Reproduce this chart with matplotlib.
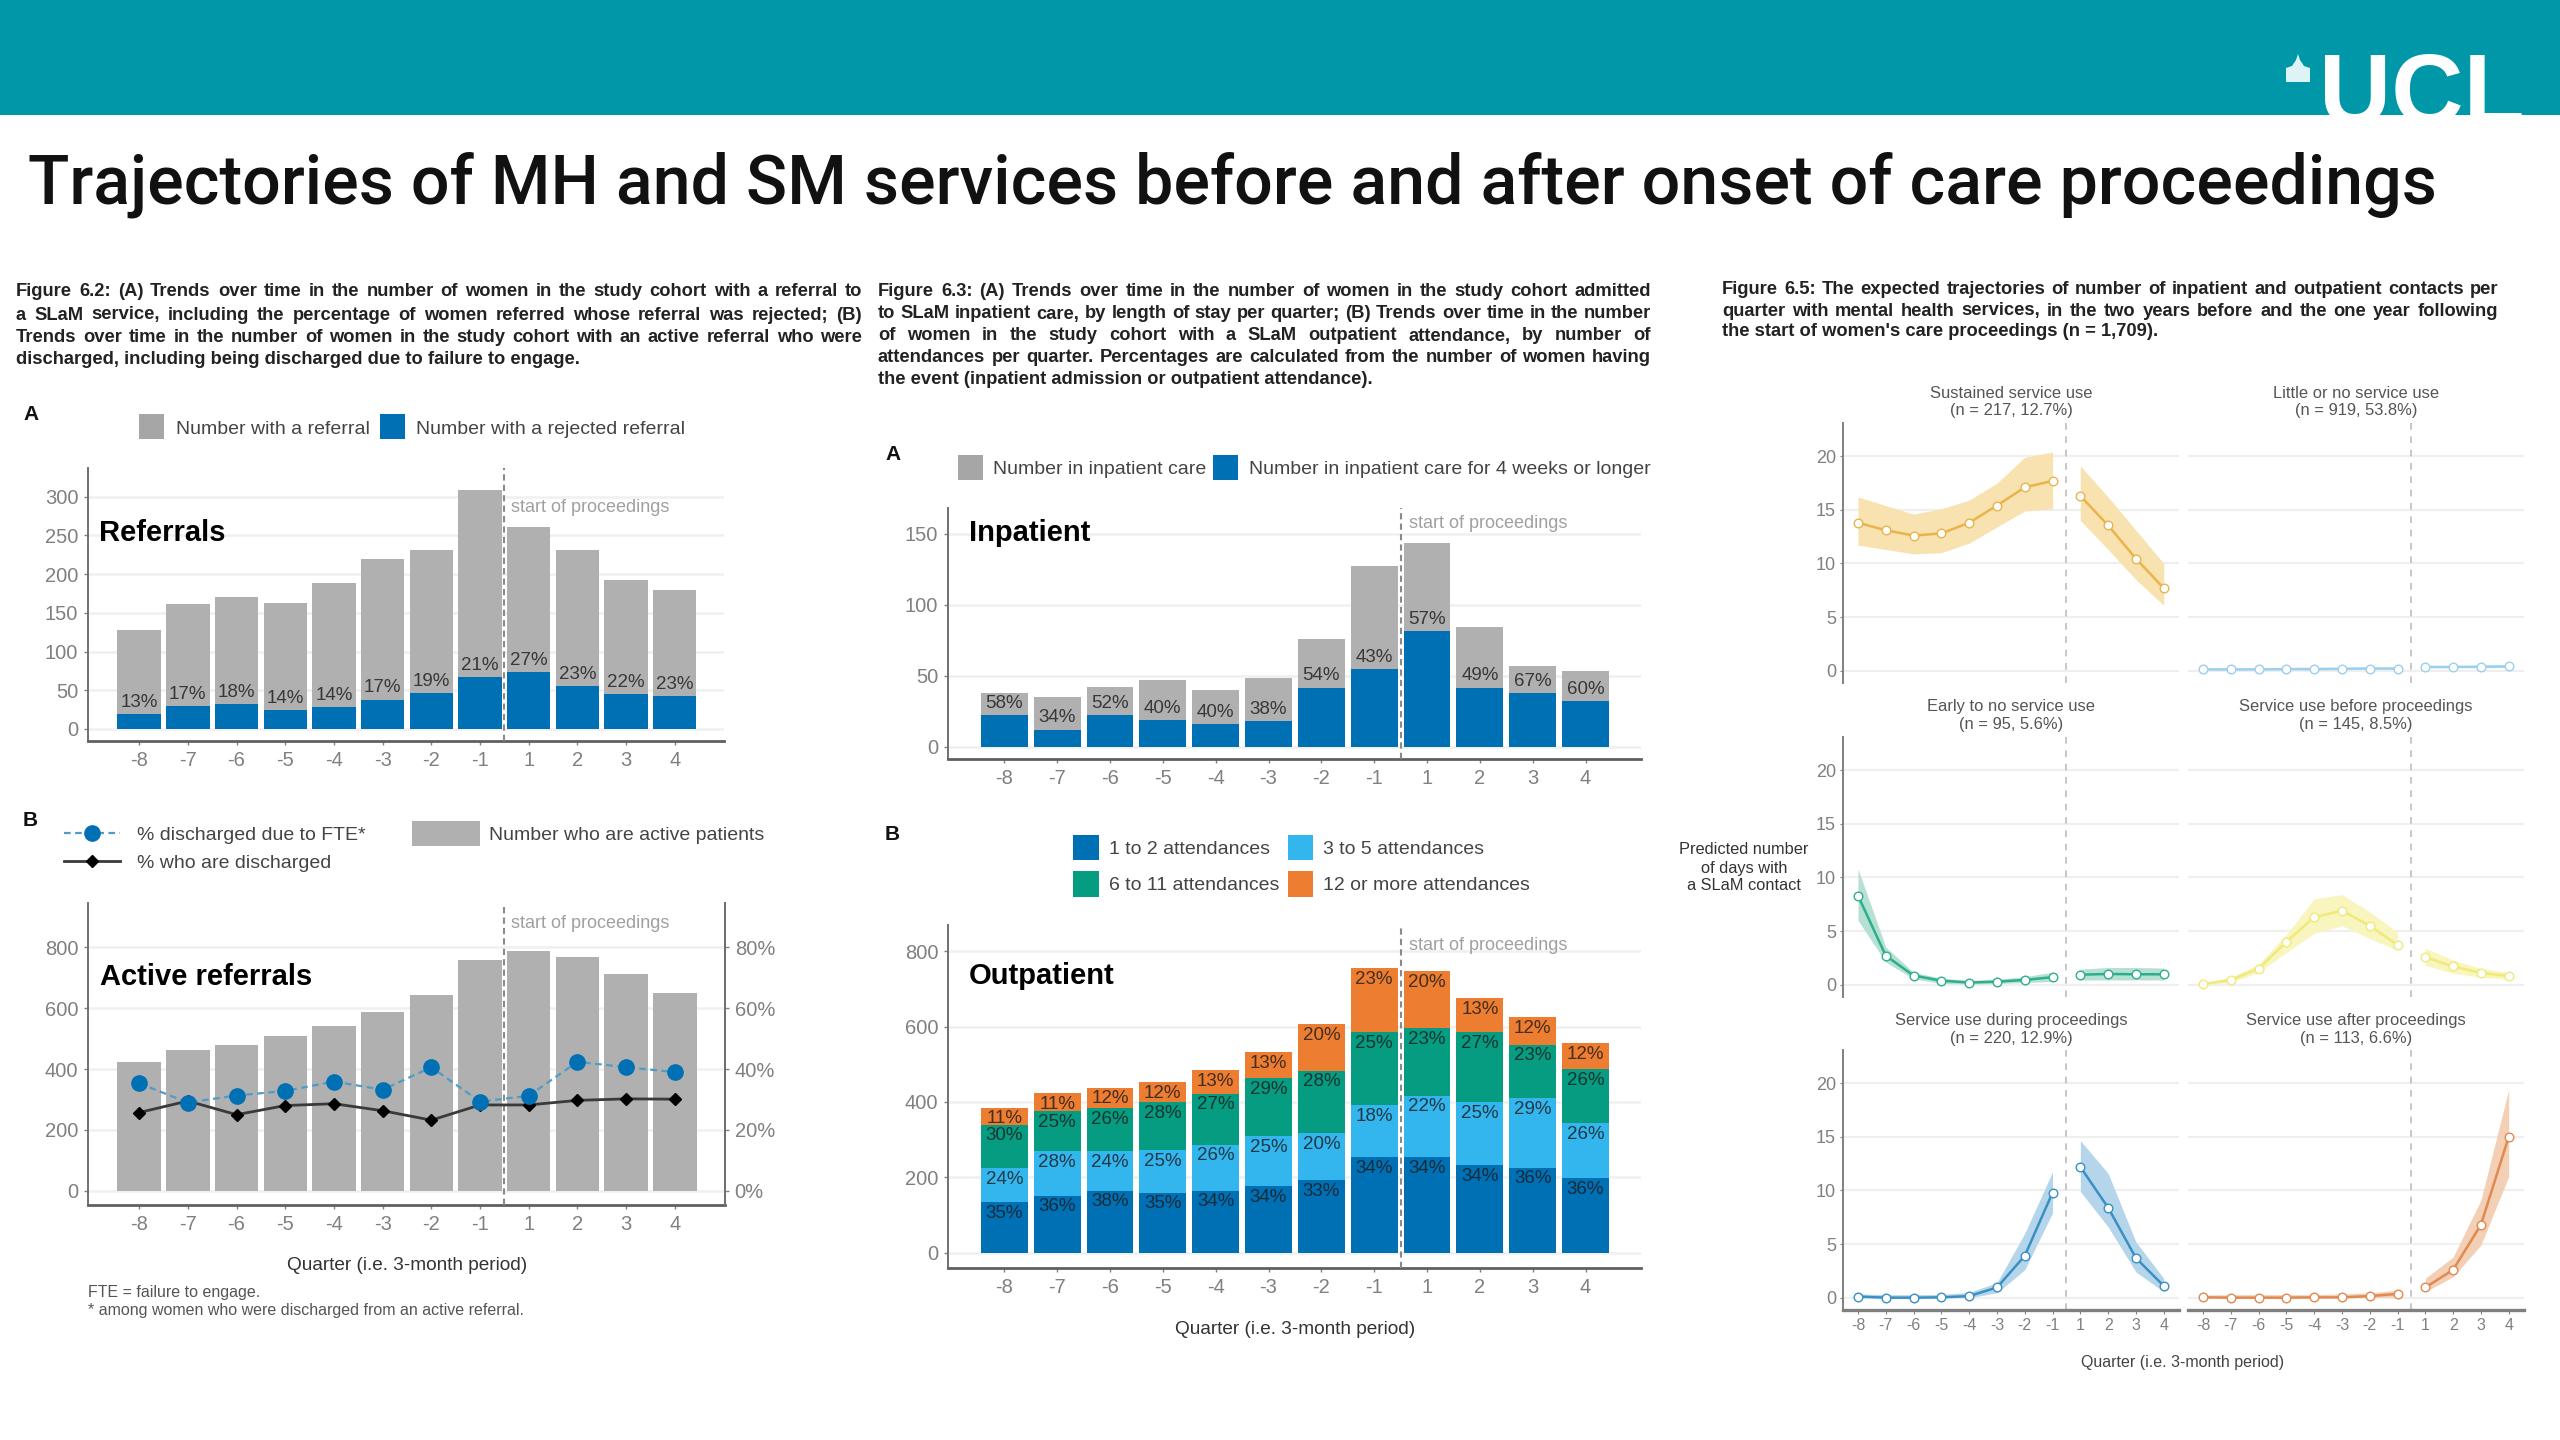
import matplotlib
matplotlib.use('Agg')
import matplotlib.pyplot as plt
from matplotlib.patches import Rectangle, Polygon
from matplotlib.lines import Line2D
from matplotlib.transforms import Affine2D

W, H = 2560, 1440

quarters = ['-8', '-7', '-6', '-5', '-4', '-3', '-2', '-1', '1', '2', '3', '4']

# Figure 6.2 A
referrals = [128, 161, 170, 163, 188, 220, 231, 308, 261, 231, 192, 179]
rejected = [19, 30, 32, 24, 28, 38, 46, 67, 73, 55, 45, 43]
rejected_pct = [13, 17, 18, 14, 14, 17, 19, 21, 27, 23, 22, 23]

# Figure 6.2 B
active = [424, 463, 480, 509, 540, 589, 643, 758, 787, 767, 713, 650]
fte_pct = [35.3, 29, 31.3, 32.8, 35.9, 33.2, 40.6, 29.3, 31.2, 42.4, 40.6, 39]
discharged_pct = [25.7, 29.5, 25, 28, 28.6, 26.3, 23.2, 28.2, 28.2, 29.7, 30.2, 30.1]

# Figure 6.3 A
inpatient = [38, 35, 42, 46.6, 40, 48.4, 76, 127.4, 143.4, 84, 57, 53.4]
inpatient_long = [22, 12, 22, 19, 16, 18, 41.6, 54.5, 81.6, 41.6, 38, 32]
inpatient_pct = [58, 34, 52, 40, 40, 38, 54, 43, 57, 49, 67, 60]

# Figure 6.3 B
att_1_2 = [134, 152, 165, 160, 165, 178, 194, 253, 254, 233, 226, 198]
att_3_5 = [91, 117, 104, 112, 122, 132, 123, 139, 163, 166, 185, 147]
att_6_11 = [115, 106, 114, 127, 135, 154, 166, 194, 178, 187, 141, 143]
att_12 = [45, 48, 55, 54, 62, 68, 123, 169, 151, 89, 73, 67]
pct_1_2 = [35, 36, 38, 35, 34, 34, 33, 34, 34, 34, 36, 36]
pct_3_5 = [24, 28, 24, 25, 26, 25, 20, 18, 22, 25, 29, 26]
pct_6_11 = [30, 25, 26, 28, 27, 29, 28, 25, 23, 27, 23, 26]
pct_12 = [11, 11, 12, 12, 13, 13, 20, 23, 20, 13, 12, 12]

# Figure 6.5 trajectories
sustained = [13.8, 13.1, 12.6, 12.8, 13.8, 15.4, 17.1, 17.7, 16.3, 13.55, 10.45, 7.7]
sustained_hi = [16.2, 15.4, 14.6, 15.1, 15.9, 17.5, 19.9, 20.4, 19.1, 16.2, 13.1, 10]
sustained_lo = [11.7, 11.3, 10.9, 11, 11.9, 13.4, 14.9, 15.1, 14, 11.3, 8.5, 6.1]

little = [0.12, 0.12, 0.12, 0.15, 0.15, 0.18, 0.2, 0.2, 0.35, 0.35, 0.37, 0.4]
little_hi = [0.2, 0.2, 0.2, 0.22, 0.22, 0.25, 0.28, 0.3, 0.45, 0.45, 0.48, 0.52]
little_lo = [0.05, 0.05, 0.05, 0.08, 0.08, 0.1, 0.12, 0.12, 0.25, 0.25, 0.27, 0.28]

early = [8.3, 2.7, 0.85, 0.37, 0.2, 0.28, 0.44, 0.7, 0.93, 1, 0.97, 0.97]
early_hi = [10.8, 3.5, 1.15, 0.6, 0.4, 0.5, 0.75, 1.15, 1.45, 1.6, 1.6, 1.55]
early_lo = [6, 2.1, 0.55, 0.12, 0.05, 0.1, 0.2, 0.3, 0.44, 0.44, 0.44, 0.44]

before = [0.06, 0.44, 1.5, 4, 6.3, 6.9, 5.5, 3.7, 2.55, 1.7, 1.1, 0.8]
before_hi = [0.12, 0.7, 1.9, 4.7, 8, 8.4, 6.8, 4.9, 3.4, 2.3, 1.5, 1.15]
before_lo = [0, 0.2, 1.15, 3, 4.8, 5.5, 4.3, 3.2, 1.8, 1.05, 0.7, 0.5]

during = [0.1, 0, 0, 0.03, 0.15, 0.95, 3.9, 9.8, 12.2, 8.4, 3.7, 1.1]
during_hi = [0.35, 0.28, 0.28, 0.3, 0.5, 1.4, 6, 11.75, 14.65, 11.6, 5.2, 1.8]
during_lo = [0, 0, 0, 0, 0, 0.45, 2.6, 7.9, 9.9, 6.6, 2.4, 0.55]

after = [0.03, 0, 0, 0, 0.03, 0.03, 0.15, 0.35, 0.95, 2.6, 6.8, 15]
after_hi = [0.25, 0.28, 0.28, 0.28, 0.28, 0.35, 0.45, 0.7, 1.8, 3.8, 9.1, 19.4]
after_lo = [0, 0, 0, 0, 0, 0, 0, 0.03, 0.55, 1.95, 4.9, 11.3]

GREY = '#B0B0B0'
BLUE = '#0070B5'
SKY = '#33B6EE'
GREEN = '#059C82'
ORANGE = '#ED7D31'
TICK = '#808080'

SANS = 'Liberation Sans'

fig = plt.figure(figsize=(W / 100, H / 100), dpi=100, facecolor='white')
# pixel coordinates measured from the top left corner
tr_px = Affine2D().scale(1 / W, -1 / H).translate(0, 1) + fig.transFigure
renderer = fig.canvas.get_renderer()


def put_text(x, y, s, size=14, color='#333333', weight='normal', ha='left', va='center', family=SANS):
    return fig.text(x, y, s, transform=tr_px, fontsize=size, color=color, fontweight=weight,
                    ha=ha, va=va, family=family)


def put_rect(x0, y0, x1, y1, color):
    fig.add_artist(Rectangle((x0, y0), x1 - x0, y1 - y0, transform=tr_px, facecolor=color, edgecolor='none'))


def justified(lines, x0, x1, ys, size=13.2):
    # the caption columns are justified, the last line is not
    for i, line in enumerate(lines):
        words = line.split(' ')
        if i == len(lines) - 1:
            put_text(x0, ys[i], line, size=size, color='#222222', weight='bold')
            continue
        items = [put_text(x0, ys[i], w, size=size, color='#222222', weight='bold') for w in words]
        widths = [t.get_window_extent(renderer).width for t in items]
        gap = (x1 - x0 - sum(widths)) / (len(words) - 1)
        x = x0
        for t, w in zip(items, widths):
            t.set_x(x)
            x += w + gap


def new_axes(left, top, right, bottom):
    ax = fig.add_axes([left / W, 1 - bottom / H, (right - left) / W, (bottom - top) / H])
    ax.patch.set_alpha(0)
    return ax


def style_bar_axes(ax, xlim, ylim, yticks):
    ax.set_xlim(xlim)
    ax.set_ylim(ylim)
    ax.set_yticks(yticks)
    ax.set_xticks(range(12))
    ax.set_xticklabels(quarters)
    ax.yaxis.grid(True, color='#F0F0F0', lw=1.8)
    ax.set_axisbelow(True)
    for name in ['top', 'right']:
        ax.spines[name].set_visible(False)
    ax.spines['left'].set_color('#707070')
    ax.spines['left'].set_linewidth(1.4)
    ax.spines['bottom'].set_color('#606060')
    ax.spines['bottom'].set_linewidth(2)
    ax.tick_params(axis='both', colors=TICK, labelsize=14.5, length=3, width=1, pad=4)
    for lab in ax.get_xticklabels() + ax.get_yticklabels():
        lab.set_family(SANS)
    ax.axvline(7.5, color='#8A8A8A', lw=1.5, ls=(0, (3, 2)), zorder=5, clip_on=False)


def pct_labels(ax, ys, values, size=13.5):
    for i, (y, v) in enumerate(zip(ys, values)):
        ax.text(i, y, f'{v}%', ha='center', va='center', fontsize=size, color='#1A1A1A',
                alpha=0.8, family=SANS, zorder=6)


# header
put_rect(0, 0, W, 115, '#0097A9')
put_text(2319, 124, 'UCL', size=72, color='white', weight='bold', va='baseline')
fig.add_artist(Polygon([(2286, 82), (2286, 68), (2292, 66), (2296, 60), (2298, 54), (2300, 60), (2304, 66),
                        (2310, 68), (2310, 82)], closed=True, transform=tr_px, facecolor='#DDF3F5',
                       edgecolor='none'))
put_text(28, 185, 'Trajectories of MH and SM services before and after onset of care proceedings',
         size=49.1, color='#111111', weight='medium', family='Roboto')

# captions
justified(['Figure 6.2: (A) Trends over time in the number of women in the study cohort with a referral to',
           'a SLaM service, including the percentage of women referred whose referral was rejected; (B)',
           'Trends over time in the number of women in the study cohort with an active referral who were',
           'discharged, including being discharged due to failure to engage.'],
          16, 862, [292, 315, 337, 360])
justified(['Figure 6.3: (A) Trends over time in the number of women in the study cohort admitted',
           'to SLaM inpatient care, by length of stay per quarter; (B) Trends over time in the number',
           'of women in the study cohort with a SLaM outpatient attendance, by number of',
           'attendances per quarter. Percentages are calculated from the number of women having',
           'the event (inpatient admission or outpatient attendance).'],
          878, 1651, [292, 314, 336, 358, 379])
justified(['Figure 6.5: The expected trajectories of number of inpatient and outpatient contacts per',
           'quarter with mental health services, in the two years before and the one year following',
           "the start of women's care proceedings (n = 1,709)."],
          1722, 2498, [289, 311, 332])

# Figure 6.2 A
ax = new_axes(88, 468, 724, 741)
x = range(12)
ax.bar(x, referrals, width=0.89, color=GREY, zorder=2)
ax.bar(x, rejected, width=0.89, color=BLUE, zorder=3)
style_bar_axes(ax, (-1.05, 12.01), (-15.5, 337), [0, 50, 100, 150, 200, 250, 300])
pct_labels(ax, [v + 15 for v in rejected], rejected_pct)

put_text(23, 415, 'A', size=15, color='#111111', weight='bold')
put_rect(139, 414, 164, 439, '#A6A6A6')
put_text(176, 429, 'Number with a referral', color='#444444')
put_rect(380, 414, 405, 439, BLUE)
put_text(416, 429, 'Number with a rejected referral', color='#444444')
put_text(99, 533, 'Referrals', size=21, color='black', weight='bold')
put_text(511, 507, 'start of proceedings', size=13, color='#A0A0A0')

# Figure 6.2 B
ax = new_axes(88, 903, 725, 1205)
ax.bar(x, active, width=0.89, color=GREY, zorder=2)
style_bar_axes(ax, (-1.05, 12.03), (-47, 946), [0, 200, 400, 600, 800])
ax.spines['right'].set_visible(True)
ax.spines['right'].set_color('#707070')
ax.spines['right'].set_linewidth(1.4)
ax2 = ax.twinx()
ax2.set_ylim(-4.7, 94.6)
ax2.set_yticks([0, 20, 40, 60, 80])
ax2.set_yticklabels(['0%', '20%', '40%', '60%', '80%'], family=SANS)
ax2.tick_params(axis='y', colors=TICK, labelsize=14.5, length=3, width=1, pad=4)
for name in ['top', 'left', 'bottom']:
    ax2.spines[name].set_visible(False)
ax2.spines['right'].set_color('#707070')
ax2.spines['right'].set_linewidth(1.4)
ax2.plot(x, discharged_pct, color='#3A3A3A', lw=2, marker='D', ms=6, mfc='black', mec='black', zorder=4)
ax2.plot(x, fte_pct, color='#4F9CC9', lw=1.6, ls=(0, (3, 2)), marker='o', ms=11, mfc=BLUE, mec=BLUE, zorder=5)

put_text(23, 820, 'B', size=15, color='#111111', weight='bold')
fig.add_artist(Line2D([64, 120], [833, 833], transform=tr_px, color='#4F9CC9', lw=1.6, ls=(0, (3, 2))))
fig.add_artist(Line2D([92], [833], transform=tr_px, marker='o', ms=11, color=BLUE))
put_text(137, 835, '% discharged due to FTE*', color='#444444')
fig.add_artist(Line2D([64, 120], [861, 861], transform=tr_px, color='#3A3A3A', lw=2))
fig.add_artist(Line2D([92], [861], transform=tr_px, marker='D', ms=6, color='black'))
put_text(137, 864, '% who are discharged', color='#444444')
put_rect(412, 821, 480, 846, GREY)
put_text(489, 835, 'Number who are active patients', color='#444444')
put_text(100, 977, 'Active referrals', size=21, color='black', weight='bold')
put_text(511, 924, 'start of proceedings', size=13, color='#A0A0A0')
put_text(407, 1266, 'Quarter (i.e. 3-month period)', size=13.7, ha='center')
put_text(88, 1293, 'FTE = failure to engage.', size=11.5, color='#555555')
put_text(88, 1310, '* among women who were discharged from an active referral.', size=11.5, color='#555555')

# Figure 6.3 A
ax = new_axes(948, 508, 1641, 759)
ax.bar(x, inpatient, width=0.888, color=GREY, zorder=2)
ax.bar(x, inpatient_long, width=0.888, color=BLUE, zorder=3)
style_bar_axes(ax, (-1.066, 12.05), (-8.7, 168), [0, 50, 100, 150])
pct_labels(ax, [v + 8.2 for v in inpatient_long], inpatient_pct)

put_text(885, 455, 'A', size=15, color='#111111', weight='bold')
put_rect(958, 455, 983, 480, '#A6A6A6')
put_text(993, 469, 'Number in inpatient care', color='#444444')
put_rect(1213, 455, 1238, 480, BLUE)
put_text(1249, 469, 'Number in inpatient care for 4 weeks or longer', color='#444444')
put_text(969, 533, 'Inpatient', size=21, color='black', weight='bold')
put_text(1409, 523, 'start of proceedings', size=13, color='#A0A0A0')

# Figure 6.3 B
ax = new_axes(948, 925, 1641, 1268)
bottom = [0] * 12
for values, pcts, colour in [(att_1_2, pct_1_2, BLUE), (att_3_5, pct_3_5, SKY),
                             (att_6_11, pct_6_11, GREEN), (att_12, pct_12, ORANGE)]:
    ax.bar(x, values, bottom=bottom, width=0.888, color=colour, zorder=2)
    bottom = [b + v for b, v in zip(bottom, values)]
    pct_labels(ax, [b - 30 for b in bottom], pcts)
style_bar_axes(ax, (-1.066, 12.05), (-40, 869), [0, 200, 400, 600, 800])

put_text(885, 834, 'B', size=15, color='#111111', weight='bold')
put_rect(1073, 835, 1099, 860, BLUE)
put_text(1109, 849, '1 to 2 attendances', color='#444444')
put_rect(1288, 835, 1313, 860, SKY)
put_text(1323, 849, '3 to 5 attendances', color='#444444')
put_rect(1073, 871, 1099, 897, GREEN)
put_text(1109, 885, '6 to 11 attendances', color='#444444')
put_rect(1288, 871, 1313, 897, ORANGE)
put_text(1323, 885, '12 or more attendances', color='#444444')
put_text(969, 976, 'Outpatient', size=21, color='black', weight='bold')
put_text(1409, 945, 'start of proceedings', size=13, color='#A0A0A0')
put_text(1295, 1329, 'Quarter (i.e. 3-month period)', size=13.7, ha='center')


# Figure 6.5 small multiples
def trajectory(left, top, title, values, hi, lo, line_col, band_col, first_col, last_row):
    ax = new_axes(left, top, left + 336, top + 260)
    ax.set_xlim(-0.54, 11.55)
    ax.set_ylim(-1.15, 23.1)
    ax.set_yticks([0, 5, 10, 15, 20])
    ax.yaxis.grid(True, color='#EFEFEF', lw=1.6)
    ax.set_axisbelow(True)
    for name in ['top', 'right', 'left', 'bottom']:
        ax.spines[name].set_visible(False)
    ax.axvline(7.5, color='#BDBDBD', lw=1.2, ls=(0, (4, 4)), zorder=1)
    if first_col:
        ax.spines['left'].set_visible(True)
        ax.spines['left'].set_color('#808080')
        ax.spines['left'].set_linewidth(1.4)
        ax.tick_params(axis='y', colors=TICK, labelsize=13, length=2, pad=3)
    else:
        ax.tick_params(axis='y', left=False, labelleft=False)
    if last_row:
        ax.spines['bottom'].set_visible(True)
        ax.spines['bottom'].set_color('#808080')
        ax.spines['bottom'].set_linewidth(2.4)
        ax.set_xticks(range(12))
        ax.set_xticklabels(quarters)
        ax.tick_params(axis='x', colors=TICK, labelsize=11.5, length=3, pad=3)
    else:
        ax.set_xticks([])
    for lab in ax.get_xticklabels() + ax.get_yticklabels():
        lab.set_family(SANS)
    # pre and post periods are separate segments
    for a, b in [(0, 8), (8, 12)]:
        idx = list(range(a, b))
        ax.fill_between(idx, lo[a:b], hi[a:b], color=band_col, lw=0, zorder=2)
        ax.plot(idx, values[a:b], color=line_col, lw=1.8, marker='o', ms=6.2, mfc='white', mec=line_col,
                mew=1, zorder=3, clip_on=False)
    put_text(left + 168, top - 30, title[0], size=11.9, color='#555555', ha='center')
    put_text(left + 168, top - 12, title[1], size=11.9, color='#555555', ha='center')


trajectory(1843, 423, ('Sustained service use', '(n = 217, 12.7%)'), sustained, sustained_hi, sustained_lo,
           '#E9B44C', '#F8E2B0', True, False)
trajectory(2188, 423, ('Little or no service use', '(n = 919, 53.8%)'), little, little_hi, little_lo,
           '#9CCFEE', '#D5ECF8', False, False)
trajectory(1843, 737, ('Early to no service use', '(n = 95, 5.6%)'), early, early_hi, early_lo,
           '#2FAE8E', '#B5E0D4', True, False)
trajectory(2188, 737, ('Service use before proceedings', '(n = 145, 8.5%)'), before, before_hi, before_lo,
           '#EFEA7A', '#F8F5BE', False, False)
trajectory(1843, 1050, ('Service use during proceedings', '(n = 220, 12.9%)'), during, during_hi, during_lo,
           '#3A8FC4', '#B5D6EA', True, True)
trajectory(2188, 1050, ('Service use after proceedings', '(n = 113, 6.6%)'), after, after_hi, after_lo,
           '#E08A50', '#F3D0B5', False, True)

put_text(1744, 850, 'Predicted number', size=11.8, ha='center')
put_text(1744, 868, 'of days with', size=11.8, ha='center')
put_text(1744, 886, 'a SLaM contact', size=11.8, ha='center')
put_text(2183, 1362, 'Quarter (i.e. 3-month period)', size=11.5, color='#444444', ha='center')

fig.savefig('out.png', dpi=100, facecolor='white')
